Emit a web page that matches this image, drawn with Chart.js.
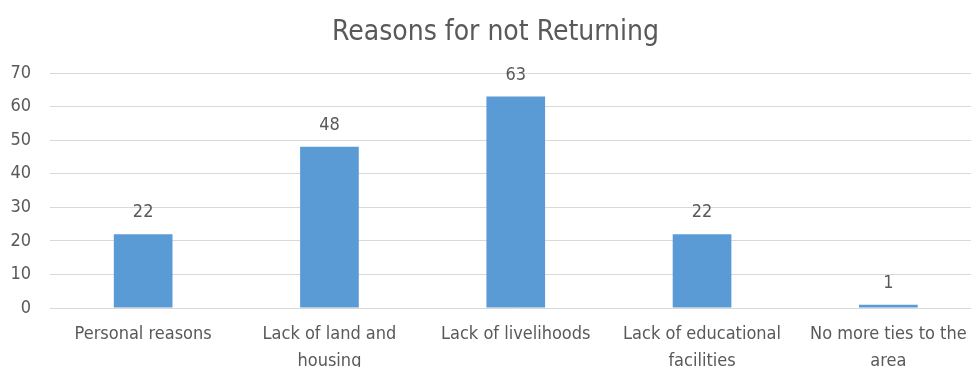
<!DOCTYPE html>
<html>
<head>
<meta charset="utf-8">
<script src="https://cdn.jsdelivr.net/npm/chart.js@4.4.1/dist/chart.umd.min.js"></script>
<style>
  html, body { margin: 0; padding: 0; background: #fff; overflow: hidden; }
  .wrap { position: relative; width: 990px; height: 367px; }
</style>
</head>
<body>
<div class="wrap"><canvas id="reasons"></canvas></div>
<script>
/* ── Datos ── */
const CATEGORIES = [
  ['Personal reasons'],
  ['Lack of land and', 'housing'],
  ['Lack of livelihoods'],
  ['Lack of educational', 'facilities'],
  ['No more ties to the', 'area'],
];
const COUNTS = [22, 48, 63, 22, 1];
const Y_TICKS = [0, 10, 20, 30, 40, 50, 60, 70];

const BLUE  = '#5B9BD5';
const TEXT  = '#595959';
const GRID  = '#D9D9D9';
const FONT  = "'Liberation Sans Narrow', 'DejaVu Sans Condensed', sans-serif";

/* ── Etiquetas de valor sobre cada barra ── */
const valueLabels = {
  id: 'valueLabels',
  afterDatasetsDraw(chart) {
    const { ctx } = chart;
    const meta = chart.getDatasetMeta(0);
    ctx.save();
    ctx.font = '18px ' + FONT;
    ctx.fillStyle = TEXT;
    ctx.textAlign = 'center';
    ctx.textBaseline = 'alphabetic';
    meta.data.forEach((bar, i) => {
      ctx.fillText(String(COUNTS[i]), bar.x, bar.y - 17);
    });
    ctx.restore();
  },
};

new Chart(document.getElementById('reasons'), {
  type: 'bar',
  data: {
    labels: CATEGORIES,
    datasets: [{
      data: COUNTS,
      backgroundColor: BLUE,
      borderWidth: 0,
      categoryPercentage: 1,
      barPercentage: 0.315,
    }],
  },
  options: {
    responsive: true,
    maintainAspectRatio: false,
    animation: false,
    layout: { padding: { left: 9.5, right: 8.5 } },
    plugins: {
      legend: { display: false },
      tooltip: { enabled: false },
      title: {
        display: true,
        text: 'Reasons for not Returning',
        color: TEXT,
        font: { family: FONT, size: 28, weight: 'normal', lineHeight: 1.2 },
        padding: { top: 15.5, bottom: 23.9 },
      },
    },
    scales: {
      x: {
        grid: { display: false, drawTicks: false },
        border: { display: false },
        ticks: {
          color: TEXT,
          font: { family: FONT, size: 18, lineHeight: 1.5 },
          padding: 12.5,
          maxRotation: 0,
          autoSkip: false,
        },
        afterFit(scale) { scale.height = 59; },
      },
      y: {
        min: 0,
        max: 70,
        afterBuildTicks(scale) { scale.ticks = Y_TICKS.map(v => ({ value: v })); },
        grid: { color: GRID, lineWidth: 1, drawTicks: false },
        border: { display: false },
        ticks: { color: TEXT, font: { family: FONT, size: 18 }, padding: 19 },
        afterFit(scale) { scale.width = 40.5; },
      },
    },
  },
  plugins: [valueLabels],
});
</script>
</body>
</html>
